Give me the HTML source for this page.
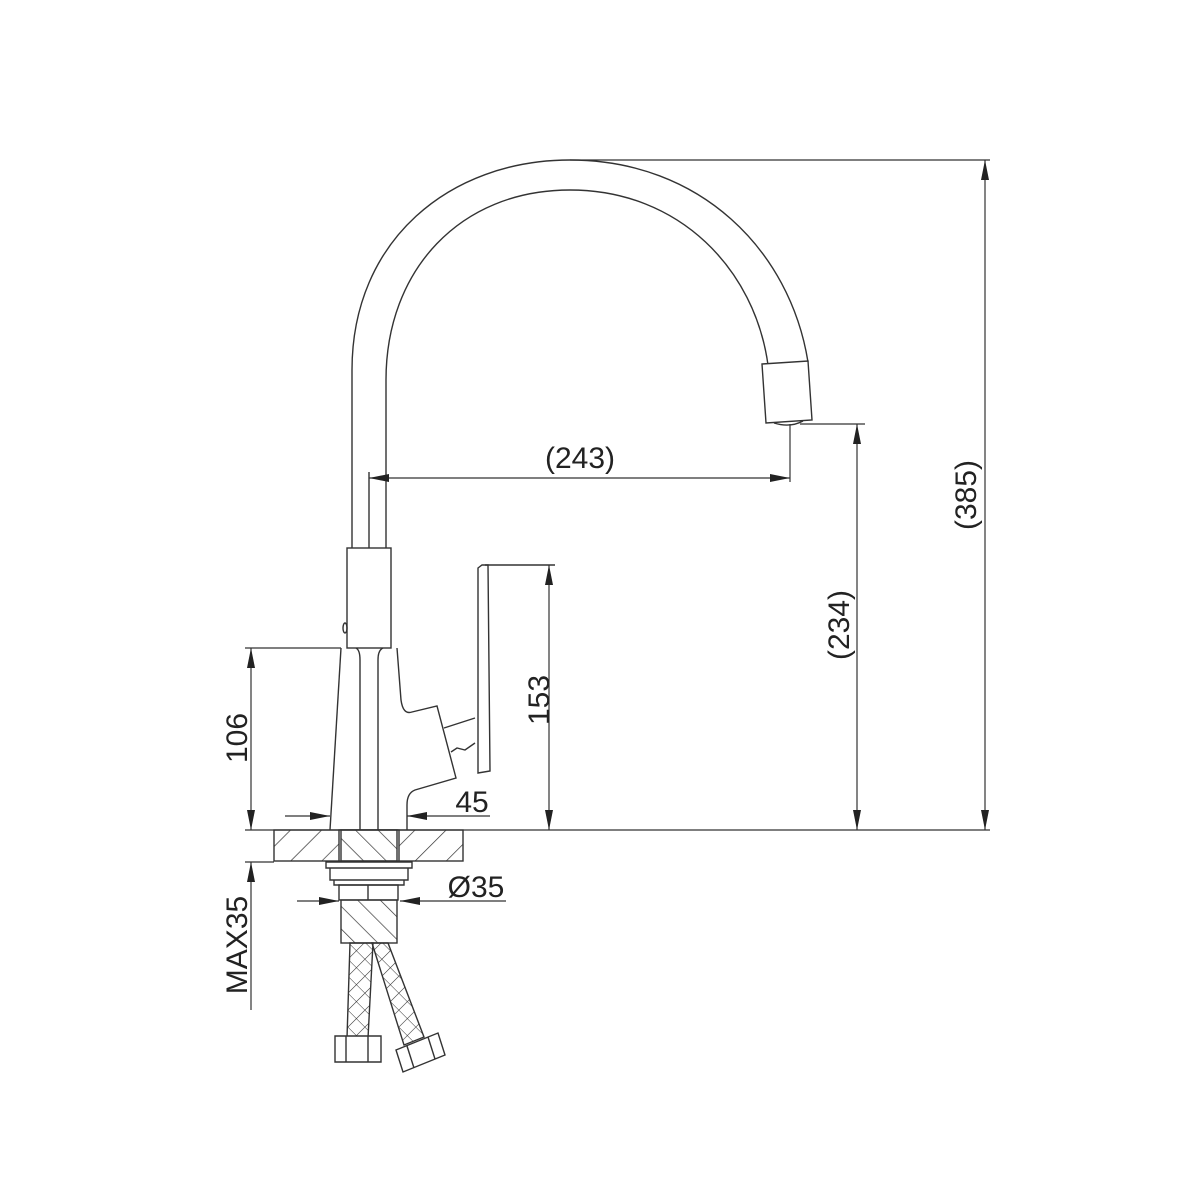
<!DOCTYPE html>
<html><head><style>body{margin:0;background:#fff}svg{display:block}</style></head><body>
<svg width="1200" height="1200" viewBox="0 0 1200 1200" xmlns="http://www.w3.org/2000/svg">
<defs>
<marker id="a" viewBox="0 0 20 8" refX="20" refY="4" markerWidth="20" markerHeight="8" markerUnits="userSpaceOnUse" orient="auto"><path d="M0 0L20 4L0 8z" fill="#222"/></marker>
<pattern id="h" width="22" height="22" patternUnits="userSpaceOnUse" patternTransform="rotate(45)"><line x1="0" y1="0" x2="0" y2="22" stroke="#333" stroke-width="1.4"/></pattern>
<pattern id="h2" width="16" height="16" patternUnits="userSpaceOnUse" patternTransform="rotate(-45)"><line x1="0" y1="0" x2="0" y2="16" stroke="#333" stroke-width="1.4"/></pattern>
<pattern id="x" width="12" height="12" patternUnits="userSpaceOnUse" patternTransform="rotate(45)"><path d="M0 0V12M0 0H12" stroke="#333" stroke-width="1.1"/></pattern>
</defs>
<g fill="none" stroke="#333" stroke-width="1.4">
<path d="M352 548L352 370C352 240 450 160 570 160C700 160 790 250 808 362"/>
<path d="M386 548L386 380C386 270 460 190 570 190C680 190 755 270 768 365"/>
<line x1="369" y1="472" x2="369" y2="548"/>
<path d="M762 364L808 361L812 420L766 423Z" fill="#fff"/>
<path d="M774 423Q790 428 803 421"/>
<rect x="347" y="548" width="44" height="100" fill="#fff"/>
<ellipse cx="345" cy="628" rx="2" ry="5"/>
<path d="M341 648L330 830"/>
<path d="M356 648Q360 650 360 660L360 830"/>
<path d="M383 648Q378 650 378 660L378 830"/>
<path d="M397 648L401 700Q403 715 412 712L437 706L456 778L415 790Q407 793 407 805L407 830"/>
<path d="M444 728L475 718M451 752L457 748L465 750L475 743"/>
<path d="M478 568L482 565L488 565L490 771L478 773Z"/>
<line x1="485" y1="565" x2="555" y2="565"/>
<rect x="274" y="830" width="189" height="31" fill="url(#h)"/>
<rect x="339" y="830" width="60" height="31" fill="#fff"/>
<rect x="341" y="830" width="56" height="31" fill="url(#h2)"/>
<path d="M326 862H412V868H326ZM330 868H408V880H330ZM334 880H404V885H334Z" fill="#fff"/>
<rect x="339" y="885" width="59" height="15"/>
<line x1="368" y1="885" x2="368" y2="900"/>
<rect x="341" y="900" width="56" height="43" fill="url(#h2)"/>
<path d="M350 943L347 1038L368 1038L373 943Z" fill="url(#x)"/>
<path d="M372 943L404 1045L424 1037L388 943Z" fill="url(#x)"/>
<path d="M335 1036H381V1062H335Z" fill="#fff"/><line x1="346" y1="1036" x2="346" y2="1062"/><line x1="368" y1="1036" x2="368" y2="1062"/>
<path d="M396 1050L438 1033L445 1055L403 1072Z" fill="#fff"/><line x1="407" y1="1046" x2="414" y2="1068"/><line x1="428" y1="1037" x2="435" y2="1059"/>
</g>
<g stroke="#333" stroke-width="1.2" fill="none">
<line x1="245" y1="830" x2="990" y2="830"/>
<line x1="570" y1="160" x2="990" y2="160"/>
<line x1="800" y1="424" x2="865" y2="424"/>
<line x1="245" y1="648" x2="341" y2="648"/>
<line x1="985" y1="495" x2="985" y2="160" marker-end="url(#a)"/>
<line x1="985" y1="495" x2="985" y2="830" marker-end="url(#a)"/>
<line x1="857" y1="625" x2="857" y2="424" marker-end="url(#a)"/>
<line x1="857" y1="625" x2="857" y2="830" marker-end="url(#a)"/>
<line x1="549" y1="700" x2="549" y2="565" marker-end="url(#a)"/>
<line x1="549" y1="700" x2="549" y2="830" marker-end="url(#a)"/>
<line x1="251" y1="740" x2="251" y2="648" marker-end="url(#a)"/>
<line x1="251" y1="740" x2="251" y2="830" marker-end="url(#a)"/>
<line x1="251" y1="1010" x2="251" y2="862" marker-end="url(#a)"/>
<line x1="245" y1="862" x2="274" y2="862"/>
<line x1="580" y1="478" x2="369" y2="478" marker-end="url(#a)"/>
<line x1="580" y1="478" x2="790" y2="478" marker-end="url(#a)"/>
<line x1="790" y1="424" x2="790" y2="482"/>
<line x1="285" y1="816" x2="330" y2="816" marker-end="url(#a)"/>
<line x1="490" y1="816" x2="407" y2="816" marker-end="url(#a)"/>
<line x1="297" y1="901" x2="339" y2="901" marker-end="url(#a)"/>
<line x1="506" y1="901" x2="400" y2="901" marker-end="url(#a)"/>
</g>
<g font-family="Liberation Sans, sans-serif" font-size="30" fill="#222">
<text x="580" y="468" text-anchor="middle">(243)</text>
<text x="472" y="812" text-anchor="middle">45</text>
<text x="476" y="897" text-anchor="middle">Ø35</text>
<text transform="translate(976 495) rotate(-90)" text-anchor="middle">(385)</text>
<text transform="translate(849 625) rotate(-90)" text-anchor="middle">(234)</text>
<text transform="translate(549 700) rotate(-90)" text-anchor="middle">153</text>
<text transform="translate(247 738) rotate(-90)" text-anchor="middle">106</text>
<text transform="translate(247 945) rotate(-90)" text-anchor="middle">MAX35</text>
</g>
</svg>
</body></html>
